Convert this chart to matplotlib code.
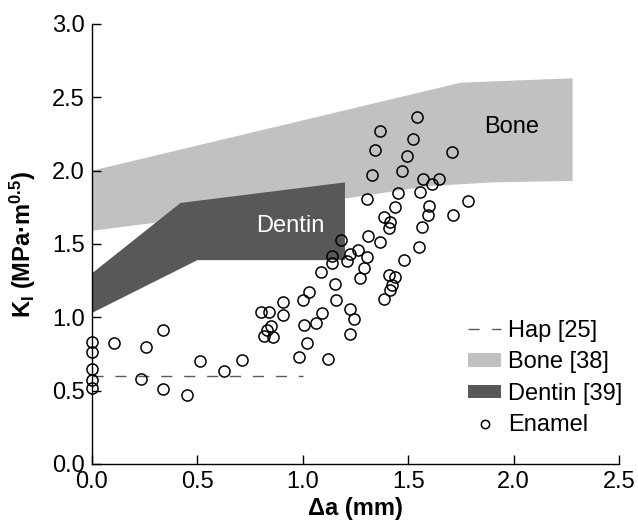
import matplotlib
matplotlib.use("Agg")
import matplotlib.pyplot as plt
from matplotlib.patches import Patch
from matplotlib.lines import Line2D

plt.rcParams['font.family'] = ['Liberation Sans', 'DejaVu Sans']
plt.rcParams['mathtext.fontset'] = 'custom'
plt.rcParams['mathtext.rm'] = 'Liberation Sans:bold'
plt.rcParams['mathtext.it'] = 'Liberation Sans:bold'
plt.rcParams['mathtext.bf'] = 'Liberation Sans:bold'

# Bone band (outline of the reported range)
bone_x = [0.0, 1.75, 2.28, 2.28, 1.9, 1.6, 1.2, 0.0]
bone_y = [2.0, 2.6, 2.63, 1.93, 1.92, 1.895, 1.81, 1.59]

# Dentin band
dentin_x = [0.0, 0.42, 1.2, 1.2, 0.5, 0.0]
dentin_y = [1.30, 1.78, 1.92, 1.39, 1.39, 1.03]

# Hap reference line
hap_x = [0.0, 1.0]
hap_y = [0.6, 0.6]

# Enamel measurements
enamel_x = [0.0, 0.0, 0.0, 0.0, 0.0,
            0.104, 0.256, 0.336, 0.232, 0.336, 0.452, 0.51, 0.626, 0.71,
            1.14, 1.223, 1.26, 1.137, 1.21, 1.087, 1.27, 1.153, 1.028, 1.002,
            0.904, 1.158, 0.80, 0.84, 0.905, 1.093, 1.224, 1.062, 1.005, 1.243,
            0.847, 0.828, 0.814, 0.861, 1.02, 1.226, 0.98, 1.12, 1.18,
            1.542, 1.368, 1.523, 1.343, 1.493, 1.708, 1.327, 1.469, 1.572, 1.613,
            1.645, 1.450, 1.555, 1.305, 1.784, 1.436, 1.597, 1.592, 1.712, 1.385,
            1.412, 1.41, 1.565, 1.308, 1.367, 1.551, 1.306, 1.479, 1.29, 1.409,
            1.436, 1.422, 1.416, 1.387]
enamel_y = [0.83, 0.765, 0.65, 0.57, 0.52,
            0.825, 0.80, 0.913, 0.577, 0.509, 0.468, 0.70, 0.634, 0.706,
            1.418, 1.43, 1.46, 1.368, 1.386, 1.307, 1.27, 1.225, 1.17, 1.116,
            1.106, 1.12, 1.034, 1.036, 1.016, 1.027, 1.057, 0.963, 0.945, 0.986,
            0.943, 0.913, 0.875, 0.864, 0.827, 0.884, 0.727, 0.714, 1.53,
            2.365, 2.272, 2.217, 2.138, 2.10, 2.125, 1.972, 2.0, 1.945, 1.911,
            1.943, 1.847, 1.856, 1.806, 1.79, 1.75, 1.759, 1.697, 1.697, 1.683,
            1.647, 1.61, 1.618, 1.556, 1.515, 1.477, 1.408, 1.393, 1.338, 1.286,
            1.277, 1.22, 1.188, 1.127]

bone_color = '#c1c1c3'
dentin_color = '#58585a'
hap_color = '#5a5a5a'
fs = 17

fig = plt.figure(figsize=(6.38, 5.27), dpi=100)
ax = fig.add_axes([92 / 638, 63 / 527, 527 / 638, 440 / 527])

ax.fill(bone_x, bone_y, color=bone_color, lw=0, zorder=1)
ax.fill(dentin_x, dentin_y, color=dentin_color, lw=0, zorder=2)
ax.plot(hap_x, hap_y, color=hap_color, lw=1.0, dashes=(8, 8.5), zorder=3)
ax.plot(enamel_x, enamel_y, 'o', ms=8, mfc='none', mec='black', mew=1.1,
        clip_on=False, zorder=4)

ax.text(1.99, 2.30, 'Bone', fontsize=fs, color='black', ha='center', va='center')
ax.text(0.94, 1.62, 'Dentin', fontsize=fs, color='white', ha='center', va='center')

ax.set_xlim(0, 2.5)
ax.set_ylim(0, 3.0)
ax.set_xticks([0.0, 0.5, 1.0, 1.5, 2.0, 2.5])
ax.set_yticks([0.0, 0.5, 1.0, 1.5, 2.0, 2.5, 3.0])
ax.xaxis.set_major_formatter(matplotlib.ticker.FormatStrFormatter('%.1f'))
ax.yaxis.set_major_formatter(matplotlib.ticker.FormatStrFormatter('%.1f'))
ax.tick_params(direction='in', length=6.5, width=1, labelsize=fs, pad=5)
ax.spines['top'].set_visible(False)
ax.spines['right'].set_visible(False)
ax.spines['left'].set_linewidth(1)
ax.spines['bottom'].set_linewidth(1)

ax.set_xlabel('Δa (mm)', fontsize=fs, fontweight='bold', labelpad=3)
ax.set_ylabel('K$_\\mathrm{I}$ (MPa·m$^{\\mathrm{0.5}}$)', fontsize=fs,
              fontweight='bold', labelpad=10)

handles = [
    Line2D([], [], color=hap_color, lw=1.0, dashes=(8, 9)),
    Patch(facecolor=bone_color, edgecolor='none'),
    Patch(facecolor=dentin_color, edgecolor='none'),
    Line2D([], [], ls='none', marker='o', ms=6, mfc='none', mec='black', mew=1.1),
]
labels = ['Hap [25]', 'Bone [38]', 'Dentin [39]', 'Enamel']
fig.legend(handles, labels, loc='upper left', bbox_to_anchor=(468 / 638, 1 - 320 / 527),
           frameon=False, fontsize=fs, handlelength=1.4, handleheight=0.5,
           handletextpad=0.3, labelspacing=0.4, borderpad=0, borderaxespad=0)

fig.savefig('out.png', dpi=100)
